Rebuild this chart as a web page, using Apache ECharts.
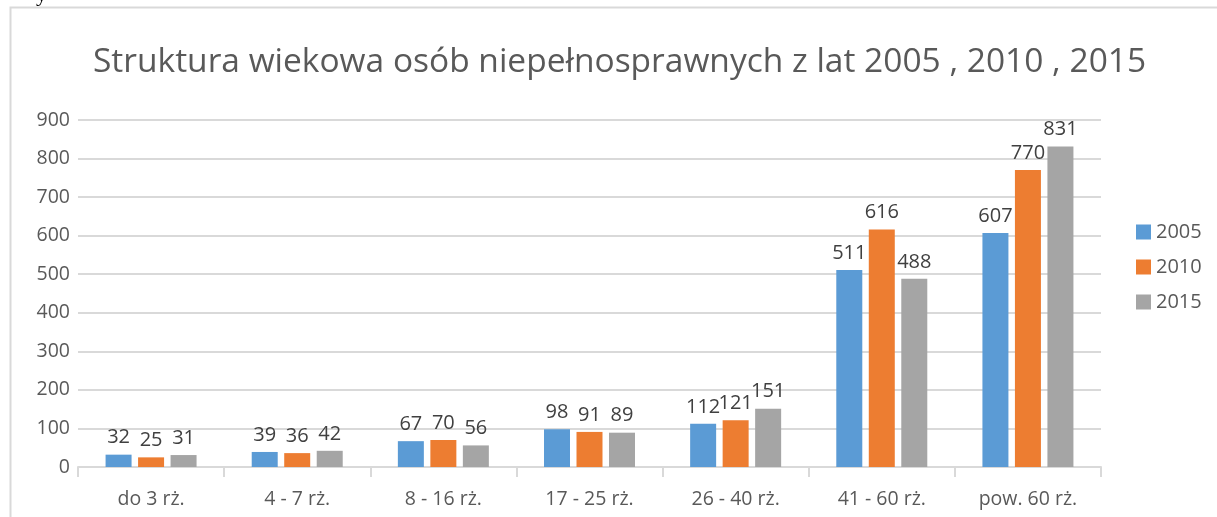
<!DOCTYPE html>
<html><head><meta charset="utf-8">
<script src="https://cdn.jsdelivr.net/npm/echarts@6/dist/echarts.min.js"></script>
<style>html,body{margin:0;padding:0;background:#fff}#c{width:1217px;height:517px}</style>
</head><body><div id="c"></div>
<script>
const categories = ['do 3 rż.', '4 - 7 rż.', '8 - 16 rż.', '17 - 25 rż.', '26 - 40 rż.', '41 - 60 rż.', 'pow. 60 rż.'];
const seriesNames = ['2005', '2010', '2015'];
const values2005 = [32, 39, 67, 98, 112, 511, 607];
const values2010 = [25, 36, 70, 91, 121, 616, 770];
const values2015 = [31, 42, 56, 89, 151, 488, 831];
const colors = ['#5b9bd5', '#ed7d31', '#a5a5a5'];
const font = 'Open Sans';
const allValues = [values2005, values2010, values2015];
const chart = echarts.init(document.getElementById('c'));
chart.setOption({
  animation: false,
  title: {
    text: 'Struktura wiekowa osób niepełnosprawnych z lat 2005 , 2010 , 2015',
    left: 88, top: 40,
    textStyle: { fontFamily: font, fontSize: 33.5, fontWeight: 'normal', color: '#595959' }
  },
  graphic: [
    { type: 'rect', shape: { x: 10.5, y: 7.5, width: 1400, height: 700 }, style: { fill: 'none', stroke: '#d9d9d9', lineWidth: 2 }, silent: true },
    { type: 'text', x: 36, y: 6, style: { text: 'y', font: '22px "Liberation Serif"', fill: '#000', verticalAlign: 'bottom' }, silent: true }
  ],
  legend: {
    orient: 'vertical', left: 1131, top: 217,
    itemWidth: 15, itemHeight: 15, itemGap: 15,
    icon: 'rect',
    textStyle: { fontFamily: font, fontSize: 20, color: '#595959' },
    data: seriesNames
  },
  grid: { left: 78, right: 116, top: 120, bottom: 50, containLabel: false },
  xAxis: {
    type: 'category', data: categories,
    axisLine: { lineStyle: { color: '#d9d9d9', width: 2 } },
    axisTick: { show: true, length: 10, lineStyle: { color: '#d9d9d9', width: 2 } },
    axisLabel: { fontFamily: font, fontSize: 19.5, color: '#595959', margin: 22 }
  },
  yAxis: {
    type: 'value', min: 0, max: 900, interval: 100,
    axisLine: { show: false }, axisTick: { show: false },
    splitLine: { lineStyle: { color: '#d9d9d9', width: 2 } },
    axisLabel: { fontFamily: font, fontSize: 19.5, color: '#595959', margin: 8 }
  },
  series: seriesNames.map((n, i) => ({
    name: n, type: 'bar', data: allValues[i],
    barWidth: 26, barGap: '25%',
    itemStyle: { color: colors[i] },
    label: { show: true, position: 'top', distance: 7, fontFamily: font, fontSize: 20, color: '#404040' }
  }))
});
</script></body></html>
